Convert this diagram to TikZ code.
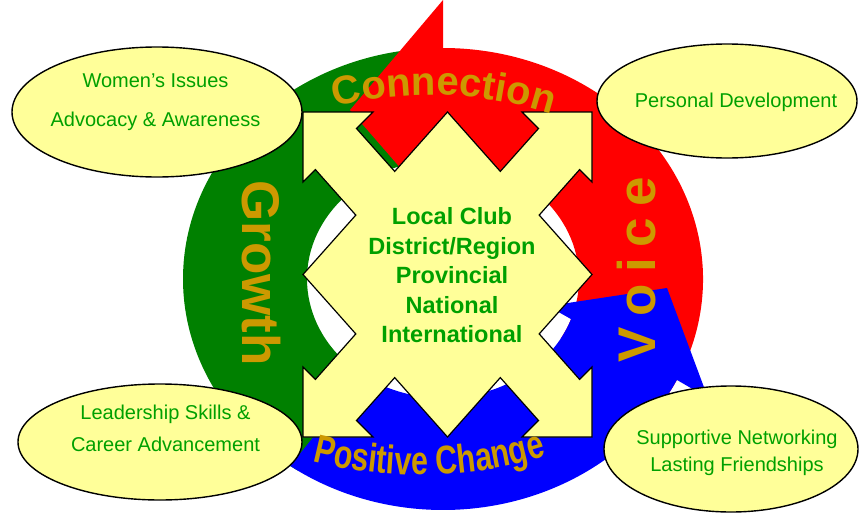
\documentclass[tikz,border=0pt]{standalone}
\usepackage{fontspec}
\setmainfont{Liberation Sans}
\newfontfamily\narrowsans[FakeStretch=0.76]{Liberation Sans}
\usepackage{xcolor}
\usetikzlibrary{calc}
\usetikzlibrary{shapes.geometric}
\usetikzlibrary{decorations.text}

\definecolor{ringgreen}{RGB}{0,128,0}
\definecolor{ringred}{RGB}{255,0,0}
\definecolor{ringblue}{RGB}{0,0,255}
\definecolor{ringgold}{RGB}{204,153,0}
\definecolor{paleyellow}{RGB}{255,255,153}
\definecolor{leafgreen}{RGB}{0,160,0}

\tikzset{
  bubble/.style={ellipse, draw=black, line width=1.4pt, fill=paleyellow, inner sep=0pt},
  bubbletext/.style={align=center, text=leafgreen, inner sep=0pt},
  ringword/.style={text=ringgold, font=\bfseries\fontsize{53}{53}\selectfont, inner sep=0pt}
}

\begin{document}
\begin{tikzpicture}[x=1pt,y=-1pt]
		\useasboundingbox (0,0) rectangle (860,514);
		\coordinate (O) at (443,279);
		% Growth (green)
		\fill[ringgreen] ($(O)+(-90:260 and 231)$) arc[start angle=-90, end angle=-236, x radius=260, y radius=231]
			-- ($(O)+(-236:136 and 119)$) arc[start angle=-236, end angle=-90, x radius=136, y radius=119] -- cycle;
		% Connection / Voice (red)
		\fill[ringred] ($(O)+(30:260 and 231)$) arc[start angle=30, end angle=-90, x radius=260, y radius=231]
			-- (443,0) -- (350,110) -- (443,217)
			-- ($(O)+(-90:136 and 119)$) arc[start angle=-90, end angle=30, x radius=136, y radius=119] -- cycle;
		% Positive Change (blue)
		\fill[ringblue] ($(O)+(-234:260 and 231)$) arc[start angle=-234, end angle=-334.1, x radius=260, y radius=231]
			-- (708,398) -- (667,288) -- (548,306)
			-- ($(O)+(-340.3:136 and 119)$) arc[start angle=-340.3, end angle=-234, x radius=136, y radius=119] -- cycle;
		% yellow cross
		\filldraw[fill=paleyellow, draw=black, line width=1.2pt]
			(303,112) -- (373,112) -- (356.5,128.5) -- (394.7,171.4) -- (447.5,112)
			-- (500.3,171.4) -- (538.5,128.5) -- (522,112) -- (592,112)
			-- (592,182) -- (579.6,169.6) -- (539.2,215.1) -- (592,274.5)
			-- (539.2,333.9) -- (579.6,379.4) -- (592,367) -- (592,437)
			-- (522,437) -- (538.5,420.5) -- (500.3,377.6) -- (447.5,437)
			-- (394.7,377.6) -- (356.5,420.5) -- (373,437) -- (303,437)
			-- (303,367) -- (315.4,379.4) -- (355.8,333.9) -- (303,274.5)
			-- (355.8,215.1) -- (315.4,169.6) -- (303,182) -- cycle;
		\node[align=center, text=leafgreen, inner sep=0pt, font=\bfseries\fontsize{23.5}{29.5}\selectfont] (levels) at (452,275.5)
			{Local Club\\District/Region\\Provincial\\National\\International};
		% bubbles
		\node[bubble, minimum width=290pt, minimum height=130pt] (issues) at (157,112) {};
		\node[bubble, minimum width=260pt, minimum height=114pt] (personal) at (727,101) {};
		\node[bubble, minimum width=284pt, minimum height=116pt] (leader) at (160,442) {};
		\node[bubble, minimum width=254pt, minimum height=126pt] (network) at (731,449) {};
		\node[bubbletext, font=\fontsize{20}{39}\selectfont] (issuestext) at (155.5,102.4) {Women's Issues\\Advocacy \& Awareness};
		\node[bubbletext, font=\fontsize{20}{24}\selectfont] (personaltext) at (736,102.8) {Personal Development};
		\node[bubbletext, font=\fontsize{20}{32}\selectfont] (leadertext) at (165.5,428.7) {Leadership Skills \&\\Career Advancement};
		\node[bubbletext, font=\fontsize{20}{27}\selectfont] (networktext) at (737,453.3) {Supportive Networking\\Lasting Friendships};
		% ring words
		\path[decorate, decoration={text along path, text align=center, text color=ringgold,
			text={|\bfseries\fontsize{40}{40}\selectfont|Connection}}]
			($(430,495)+(-118:400)$) arc[start angle=-118, end angle=-58, radius=400];
		\path[decorate, decoration={text along path, text align=center, text color=ringgold,
			text={|\narrowsans\bfseries\fontsize{40}{40}\selectfont|Positive Change}}]
			($(420,43)+(118.7:432)$) arc[start angle=118.7, end angle=58.7, radius=432];
		\node[ringword, rotate=-90] (growth) at (261,273) {Growth};
		\node[ringword, rotate=90] (voice) at (637,270) {V\hspace{11pt}o\hspace{11pt}i\hspace{11pt}c\hspace{11pt}e};
	\end{tikzpicture}
\end{document}
